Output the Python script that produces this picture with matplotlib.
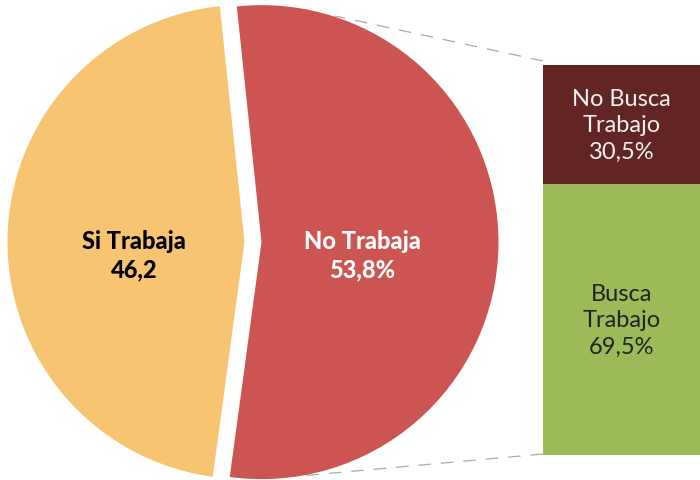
import matplotlib
matplotlib.use("Agg")
import matplotlib.pyplot as plt

plt.rcParams['font.family'] = ['Lato', 'DejaVu Sans']

# Data
pie_labels = ["No Trabaja", "Si Trabaja"]
pie_values = [53.8, 46.2]
pie_texts = ["No Trabaja\n53,8%", "Si Trabaja\n46,2"]
bar_labels = ["Busca\nTrabajo\n69,5%", "No Busca\nTrabajo\n30,5%"]
bar_values = [69.5, 30.5]

pie_colors = ["#CC5551", "#F7C471"]
bar_colors = ["#9BBB59", "#632523"]

W, H = 700, 481
fig = plt.figure(figsize=(W / 100, H / 100), dpi=100)
ax = fig.add_axes([0, 0, 1, 1])

# explode is in data units here (pixels)
wedges, _ = ax.pie(pie_values, colors=pie_colors, center=(253, H - 243), radius=237,
                   startangle=-97.7, counterclock=True, explode=[8.5, 8.5],
                   wedgeprops=dict(linewidth=0))
ax.set_xlim(0, W)
ax.set_ylim(0, H)
ax.set_aspect('auto')
ax.axis('off')

# labels inside pie
ax.text(362, H - 256, pie_texts[0], ha='center', va='center', fontsize=17,
        fontweight='black', color='white', linespacing=1.3)
ax.text(134, H - 256, pie_texts[1], ha='center', va='center', fontsize=17,
        fontweight='black', color='black', linespacing=1.3)

# connector lines
ax.plot([543, 335], [H - 62, H - 17], color='#AAAAAA', lw=0.9,
        dashes=(10, 8), zorder=0.5)
ax.plot([543, 300], [H - 455, H - 477], color='#AAAAAA', lw=0.9,
        dashes=(10, 8), zorder=0.5)

# stacked bar
bax = fig.add_axes([543 / W, (H - 456) / H, 157 / W, 390 / H])
bottom = 0
for v, c, lab, tc in zip(bar_values, bar_colors, bar_labels, ['#222222', '#F2F2F2']):
    bax.bar(0.5, v, width=1.0, bottom=bottom, color=c, linewidth=0)
    bax.text(0.5, bottom + v / 2, lab, ha='center', va='center', fontsize=17,
             color=tc, linespacing=1.32)
    bottom += v
bax.set_xlim(0, 1)
bax.set_ylim(0, 100)
bax.axis('off')

fig.savefig("out.png", dpi=100)
